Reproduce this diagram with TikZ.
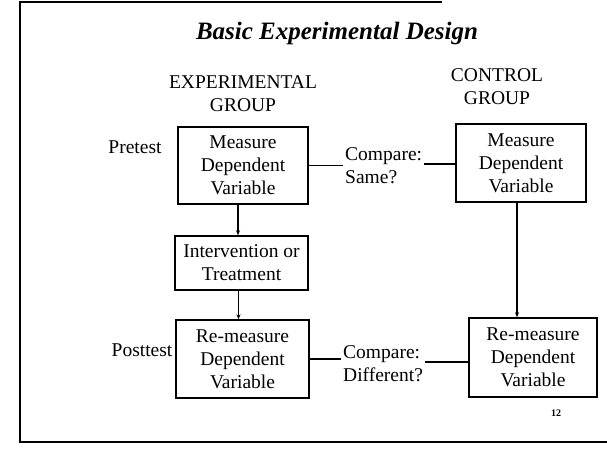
\documentclass[tikz,border=0pt]{standalone}
\usepackage{fontspec}
\setmainfont{Liberation Serif}
\usetikzlibrary{arrows.meta}

\tikzset{
  box/.style={draw, line width=1.4pt, align=center, inner sep=0pt},
  spoj/.style={line width=1.4pt},
}

\begin{document}
\begin{tikzpicture}[x=1pt,y=-1pt,>={Stealth[length=5pt,width=4pt]},
                    font=\fontsize{19.5}{23}\selectfont]

  \useasboundingbox (0,0) rectangle (607,448);

  \begin{scope}   % ramecek
    \draw[line width=2pt] (442,1.5)--(19.5,1.5)--(19.5,442)--(607,442);
  \end{scope}

  \begin{scope}   % nadpis a skupiny
    \node (nadpis) at (337,33) {\fontsize{25}{30}\selectfont\bfseries\itshape
         Basic Experimental Design};
    \node[align=center] (expskup) at (243,94)
         {\fontsize{19.5}{24}\selectfont EXPERIMENTAL\\GROUP};
    \node[align=center] (kontskup) at (497,86.5)
         {\fontsize{19.5}{23}\selectfont CONTROL\\GROUP};
    \node (pre)  at (135,147) {Pretest};
    \node (post) at (142,350) {Posttest};
  \end{scope}

  \begin{scope}   % bloky
    \node[box, minimum width=130pt, minimum height=77pt] (m1) at (243,165.5)
         {Measure\\Dependent\\Variable};
    \node[box, minimum width=133pt, minimum height=54pt] (int) at (241.5,263)
         {Intervention or\\Treatment};
    \node[box, minimum width=133pt, minimum height=78pt] (m3) at (242.5,359)
         {Re-measure\\Dependent\\Variable};
    \node[box, minimum width=130pt, minimum height=78pt] (m2) at (521,163)
         {Measure\\Dependent\\Variable};
    \node[box, minimum width=128pt, minimum height=79pt] (m4) at (533,357.5)
         {Re-measure\\Dependent\\Variable};

    \node[anchor=west, align=left, inner xsep=2pt, inner ysep=0pt] (cmp1)
         at (343,166) {Compare:\\Same?};
    \node[anchor=west, align=left, inner xsep=2pt, inner ysep=0pt] (cmp2)
         at (341,364) {Compare:\\Different?};

    \node (str) at (556,413) {\fontsize{10}{12}\selectfont\bfseries 12};
  \end{scope}

  \begin{scope}   % spojnice
    \draw[spoj, ->] ([xshift=-5pt]m1.south)--([xshift=-5pt]m1.south |- int.north);
    \draw[spoj, ->] ([xshift=-3pt]int.south)--([xshift=-3pt]int.south |- m3.north);
    \draw[spoj, ->] ([xshift=-4pt]m2.south)--([xshift=-4pt]m2.south |- m4.north);

    \draw[spoj] (m1.east)--(m1.east -| cmp1.west);
    \draw[spoj] ([yshift=2pt]cmp1.east)--([yshift=2pt]cmp1.east -| m2.west);
    \draw[spoj] (m3.east)--(m3.east -| cmp2.west);
    \draw[spoj] ([yshift=2pt]cmp2.east)--([yshift=2pt]cmp2.east -| m4.west);
  \end{scope}

\end{tikzpicture}
\end{document}
